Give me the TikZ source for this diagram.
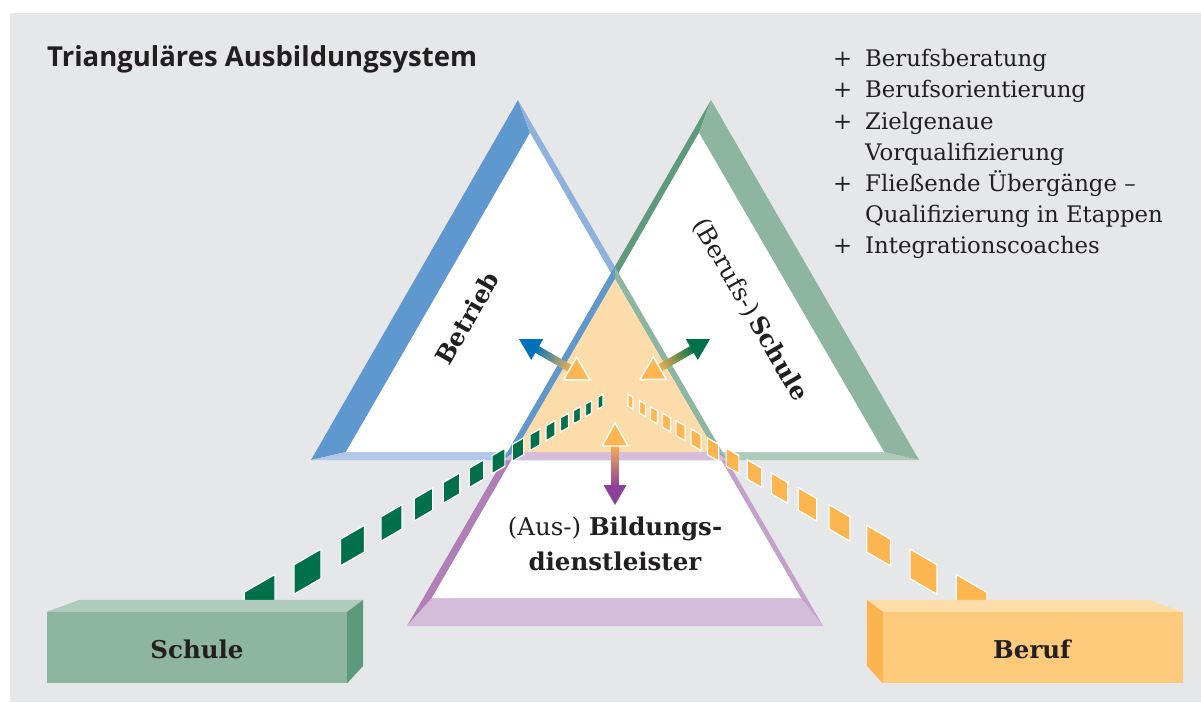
\documentclass[tikz,border=0pt]{standalone}
\usepackage{fontspec}
\setmainfont{DejaVu Serif}
\newfontfamily\headfont{Open Sans}
\usetikzlibrary{calc}

\definecolor{bg}{HTML}{E6E7E9}
\definecolor{ink}{HTML}{231F20}
% Betrieb (blue)
\definecolor{bDark}{HTML}{5E98CF}
\definecolor{bMid}{HTML}{8FB2DD}
\definecolor{bPale}{HTML}{B1C8E8}
% Schule (green)
\definecolor{gDark}{HTML}{5F9A7C}
\definecolor{gMid}{HTML}{8DB59F}
\definecolor{gPale}{HTML}{AECABA}
% Bildungsdienstleister (purple)
\definecolor{pDark}{HTML}{B07FB8}
\definecolor{pMid}{HTML}{C4A1CB}
\definecolor{pPale}{HTML}{D5BCDA}
% centre and accents
\definecolor{core}{HTML}{FDDCAB}
\definecolor{tileGreen}{HTML}{00704A}
\definecolor{tileOrange}{HTML}{FDB64F}
\definecolor{arBlue}{HTML}{0072BB}
\definecolor{arGreen}{HTML}{00704A}
\definecolor{arPurple}{HTML}{8E3F97}
\definecolor{arOrange}{HTML}{FDB64F}
% boxes
\definecolor{sFront}{HTML}{8DB5A0}
\definecolor{sTop}{HTML}{AECBBB}
\definecolor{sSide}{HTML}{5D9A7C}
\definecolor{oFront}{HTML}{FDC97A}
\definecolor{oTop}{HTML}{FEDDA8}
\definecolor{oSide}{HTML}{FBB44F}

\begin{document}
\begin{tikzpicture}[x=1pt,y=-1pt,
  tileG/.style={fill=tileGreen, draw=white, line width=1.2pt},
  tileO/.style={fill=tileOrange, draw=white, line width=1.2pt},
  lbl/.style={text=ink, inner sep=0pt},
  boldlbl/.style={lbl, font=\bfseries\fontsize{24.5}{28}\selectfont},
  outlined/.style={draw=white, line width=1.4pt, line join=miter}]

\useasboundingbox (0,0) rectangle (1201,702);
\fill[white] (0,0) rectangle (1201,702);
\fill[bg] (10,13) rectangle (1201,702);

% ---------- triangle: Bildungsdienstleister ----------
\coordinate (pA) at (615,267);  \coordinate (pL) at (407,626);  \coordinate (pR) at (823,626);
\coordinate (pa) at (616,279);  \coordinate (pl) at (432,598);  \coordinate (pr) at (801,598);
\fill[pDark] (pA) -- (pL) -- (pl) -- (pa) -- cycle;
\fill[pMid]  (pA) -- (pa) -- (pr) -- (pR) -- cycle;
\fill[pPale] (pL) -- (pR) -- (pr) -- (pl) -- cycle;
\fill[white] (pa) -- (pl) -- (pr) -- cycle;

% ---------- triangle: Betrieb ----------
\coordinate (bA) at (518,100);  \coordinate (bL) at (311,460);  \coordinate (bR) at (727,460);
\coordinate (ba) at (530,133);  \coordinate (bl) at (346,452);  \coordinate (br) at (714,452);
\fill[bDark] (bA) -- (bL) -- (bl) -- (ba) -- cycle;
\fill[bMid]  (bA) -- (ba) -- (br) -- (bR) -- cycle;
\fill[bPale] (bL) -- (bR) -- (br) -- (bl) -- cycle;
\fill[white] (ba) -- (bl) -- (br) -- cycle;

% ---------- triangle: (Berufs-)Schule ----------
\coordinate (sA) at (711,100);  \coordinate (sL) at (503,460);  \coordinate (sR) at (919,460);
\coordinate (sa) at (699,133);  \coordinate (sl) at (516,452);  \coordinate (sr) at (884,452);
\fill[gDark] (sA) -- (sL) -- (sl) -- (sa) -- cycle;
\fill[gMid]  (sA) -- (sa) -- (sr) -- (sR) -- cycle;
\fill[gPale] (sL) -- (sR) -- (sr) -- (sl) -- cycle;
\fill[white] (sa) -- (sl) -- (sr) -- cycle;

% ---------- common core ----------
\coordinate (cA) at (615,267);  \coordinate (cL) at (503,460);  \coordinate (cR) at (727,460);
\coordinate (ca) at (615,279);  \coordinate (cl) at (514.5,452); \coordinate (cr) at (715.5,452);
\fill[bDark] (cA) -- (cL) -- (cl) -- (ca) -- cycle;
\fill[gMid]  (cA) -- (ca) -- (cr) -- (cR) -- cycle;
\fill[pPale] (cL) -- (cR) -- (cr) -- (cl) -- cycle;
\fill[core]  (ca) -- (cl) -- (cr) -- cycle;

% ---------- tiled paths to Schule and Beruf ----------
\foreach \d in {15,27,38.5,51,65,80.5,97.5,117,139,164,192,224,263,308,356} {
  \pgfmathsetmacro\tW{4+0.075*\d}
  \pgfmathsetmacro\tH{11+0.06*\d}
  \pgfmathsetmacro\tX{615.5-\d}
  \pgfmathsetmacro\tM{615.5+\d}
  \pgfmathsetmacro\tY{393+0.58*\d}
  \pgfmathsetmacro\tS{0.29*\tW}
  \filldraw[tileG] ({\tX-\tW/2},{\tY-\tH/2+\tS}) -- ({\tX+\tW/2},{\tY-\tH/2-\tS})
     -- ({\tX+\tW/2},{\tY+\tH/2-\tS}) -- ({\tX-\tW/2},{\tY+\tH/2+\tS}) -- cycle;
  \filldraw[tileO] ({\tM+\tW/2},{\tY-\tH/2+\tS}) -- ({\tM-\tW/2},{\tY-\tH/2-\tS})
     -- ({\tM-\tW/2},{\tY+\tH/2-\tS}) -- ({\tM+\tW/2},{\tY+\tH/2+\tS}) -- cycle;
}

% ---------- boxes ----------
\node[fill=sFront, minimum width=300pt, minimum height=71pt, inner sep=0pt] (schule) at (197,647.5) {};
\fill[sTop]  (schule.north west) -- ++(33,-12) -- ++(283,0) -- (schule.north east) -- cycle;
\fill[sSide] (schule.north east) -- ++(16,-12) -- ++(0,66) -- (schule.south east) -- cycle;
\node[boldlbl, anchor=base] (schuleText) at (197,658) {Schule};

\node[fill=oFront, minimum width=300pt, minimum height=71pt, inner sep=0pt] (beruf) at (1033,647.5) {};
\fill[oTop]  (beruf.north west) -- ++(-16,-12) -- ++(281,0) -- (beruf.north east) -- cycle;
\fill[oSide] (beruf.north west) -- ++(-16,-12) -- ++(0,66) -- (beruf.south west) -- cycle;
\node[boldlbl, anchor=base] (berufText) at (1032,658) {Beruf};

% ---------- double arrows in the core ----------
\coordinate (a1) at (519,339);
\coordinate (a2) at (710,339);
\coordinate (a3) at (615,505);
\begin{scope}[transform canvas={shift={(a1)},rotate=-30}]
  \shade[left color=arBlue, right color=arOrange] (18,-3.8) rectangle (62,3.8);
  \fill[arBlue] (0,0) -- (21,-12) -- (21,12) -- cycle;
  \filldraw[fill=arOrange, outlined] (82,0) -- (59,-13) -- (59,13) -- cycle;
\end{scope}
\begin{scope}[transform canvas={shift={(a2)},rotate=-150}]
  \shade[left color=arGreen, right color=arOrange] (18,-3.8) rectangle (61,3.8);
  \fill[arGreen] (0,0) -- (21,-12) -- (21,12) -- cycle;
  \filldraw[fill=arOrange, outlined] (81,0) -- (58,-13) -- (58,13) -- cycle;
\end{scope}
\begin{scope}[transform canvas={shift={(a3)},rotate=90}]
  \shade[left color=arPurple, right color=arOrange] (18,-3.8) rectangle (62,3.8);
  \fill[arPurple] (0,0) -- (20,-11.5) -- (20,11.5) -- cycle;
  \filldraw[fill=arOrange, outlined] (82,0) -- (59,-13) -- (59,13) -- cycle;
\end{scope}

% ---------- labels ----------
\node[boldlbl, rotate=60] (betrieb) at (467,318) {Betrieb};
\node[lbl, rotate=-60, font=\fontsize{24.5}{28}\selectfont] (bschule) at (750,310)
  {(Berufs-)\,\textbf{Schule}};
\node[lbl, anchor=base, font=\fontsize{24.5}{35}\selectfont] (bild) at (615,535)
  {\begin{tabular}[t]{@{}c@{}}(Aus-) \textbf{Bildungs-}\\ \textbf{dienstleister}\end{tabular}};

\node[lbl, anchor=base west, font={\headfont\bfseries\fontsize{27.5}{32}\selectfont}] (title) at (47,66)
  {Trianguläres Ausbildungsystem};

\node[lbl, anchor=base west, font=\fontsize{22.8}{31.2}\selectfont] (list) at (833,66.7)
  {\begin{tabular}[t]{@{}l@{}l@{}}
   \makebox[32pt][l]{+} & Berufsberatung\\
   \makebox[32pt][l]{+} & Berufsorientierung\\
   \makebox[32pt][l]{+} & Zielgenaue\\
                        & Vorqualifizierung\\
   \makebox[32pt][l]{+} & Fließende Übergänge –\\
                        & Qualifizierung in Etappen\\
   \makebox[32pt][l]{+} & Integrationscoaches
   \end{tabular}};
\end{tikzpicture}
\end{document}
